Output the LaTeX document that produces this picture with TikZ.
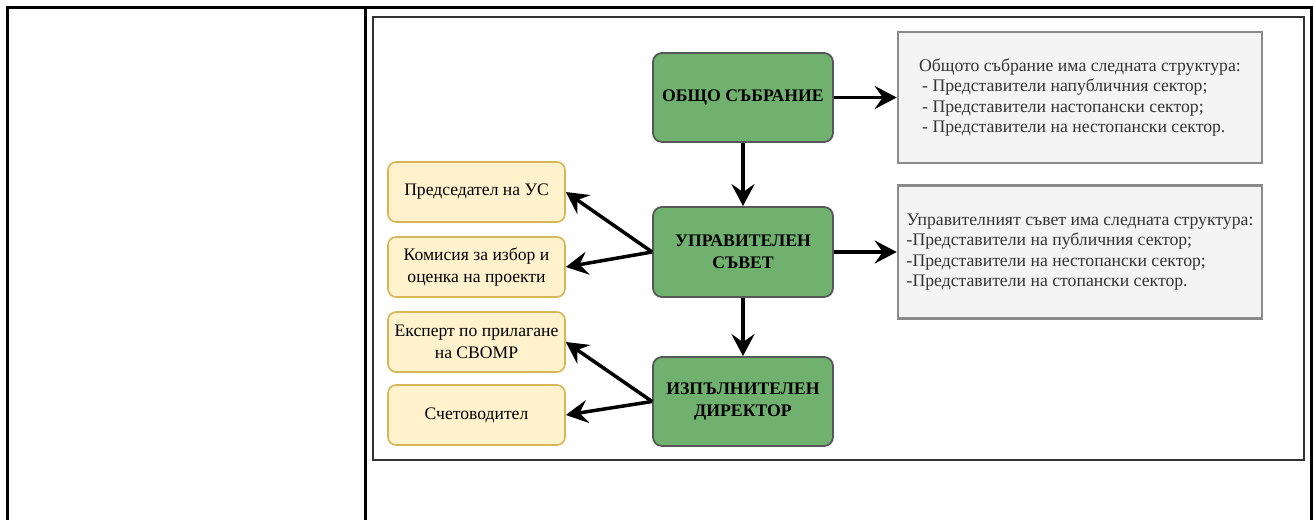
\documentclass[tikz,border=0pt]{standalone}
\usepackage{fontspec}
\setmainfont{Liberation Serif}
\usetikzlibrary{arrows.meta}
\definecolor{gfill}{HTML}{71B16F}
\definecolor{gline}{HTML}{575757}
\definecolor{yfill}{HTML}{FFF2CC}
\definecolor{yline}{HTML}{D6B656}
\definecolor{pfill}{HTML}{F4F4F4}
\definecolor{pline}{HTML}{8A8A8A}
\definecolor{ptext}{HTML}{333333}
\tikzset{
  greenbox/.style={draw=gline, line width=1.8pt, fill=gfill, rounded corners=9pt,
    minimum width=180pt, align=center, inner sep=2pt,
    font=\fontsize{17.7}{22}\selectfont\bfseries},
  yellowbox/.style={draw=yline, line width=1.6pt, fill=yfill, rounded corners=8pt,
    minimum width=177pt, minimum height=60pt, align=center, inner sep=2pt,
    font=\fontsize{17.6}{22}\selectfont},
  graybox/.style={draw=pline, line width=2.6pt, fill=pfill, minimum width=364pt,
    align=left, inner sep=2pt, text=ptext, font=\fontsize{17.7}{20.5}\selectfont},
  conn/.style={line width=3.5pt, -{Stealth[length=22pt,width=23pt,inset=8pt]}},
}
\begin{document}
\begin{tikzpicture}[x=1pt,y=-1pt]
\useasboundingbox (0,0) rectangle (1314,520);
% table
\draw[line width=3pt] (7,520) -- (7,7) -- (1311.5,7) -- (1311.5,520);
\draw[line width=3pt] (365,7) -- (365,520);
% inner frame
\draw[line width=1.5pt, draw=black!80] (373,17) rectangle (1304,460);
% green boxes
\node[greenbox, minimum height=89pt] (gs) at (743,97.5) {ОБЩО СЪБРАНИЕ};
\node[greenbox, minimum height=90pt] (us) at (743,252) {УПРАВИТЕЛЕН\\СЪВЕТ};
\node[greenbox, minimum height=89pt] (id) at (743,401.5) {ИЗПЪЛНИТЕЛЕН\\ДИРЕКТОР};
% gray boxes
\node[graybox, minimum height=131pt] (p1) at (1080,97.5) {Общото събрание има следната структура:\\
\hspace*{3pt}- Представители напубличния сектор;\\
\hspace*{3pt}- Представители настопански сектор;\\
\hspace*{3pt}- Представители на нестопански сектор.};
\node[graybox, minimum height=133pt] (p2) at (1080,252) {Управителният съвет има следната структура:\\
-Представители на публичния сектор;\\
-Представители на нестопански сектор;\\
-Представители на стопански сектор.};
% yellow boxes
\node[yellowbox] (y1) at (476.5,192) {Председател на УС};
\node[yellowbox] (y2) at (476.5,267) {Комисия за избор и\\оценка на проекти};
\node[yellowbox] (y3) at (476.5,342) {Експерт по прилагане\\на СВОМР};
\node[yellowbox] (y4) at (476.5,415) {Счетоводител};
% connectors
\draw[conn] (gs.south) -- (us.north);
\draw[conn] (us.south) -- (id.north);
\draw[conn] (gs.east) -- (p1.west);
\draw[conn] (us.east) -- (p2.west);
\draw[conn] (us.west) -- (y1.east);
\draw[conn] (us.west) -- (y2.east);
\draw[conn] (id.west) -- (y3.east);
\draw[conn] (id.west) -- (y4.east);
\end{tikzpicture}
\end{document}
